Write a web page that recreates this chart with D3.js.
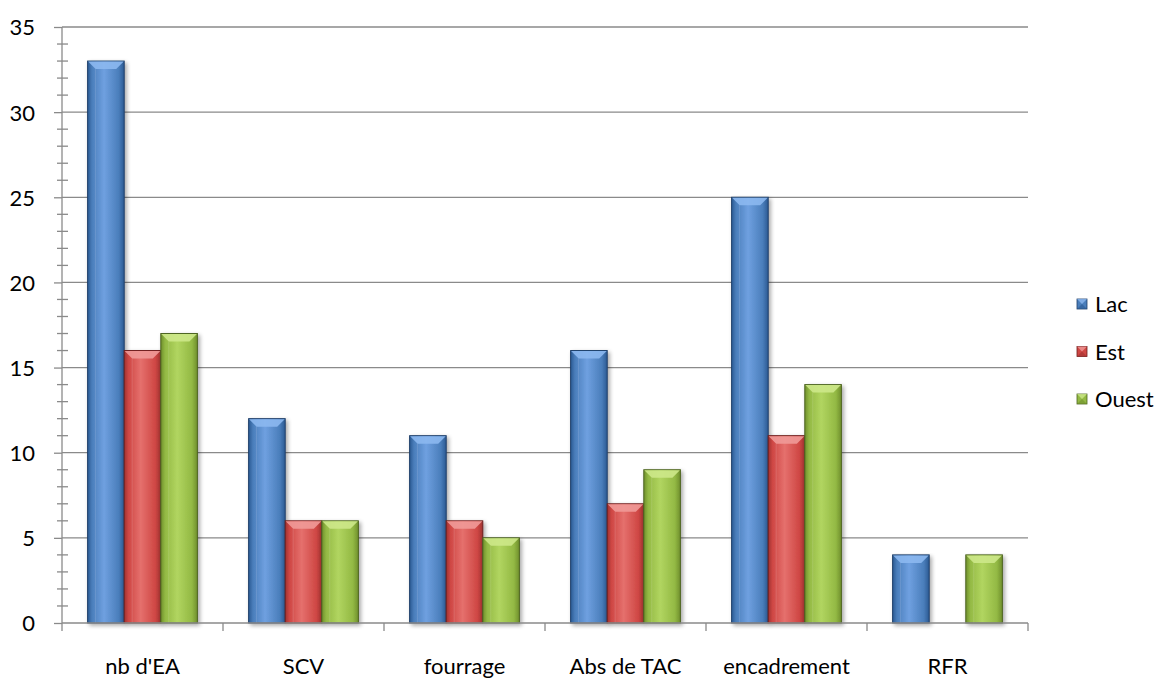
<!DOCTYPE html>
<html><head><meta charset="utf-8">
<script src="https://cdn.jsdelivr.net/npm/d3@7"></script>
<style>
html,body{margin:0;padding:0;background:#fff;}
svg text{font-family:Lato,"Open Sans",sans-serif;fill:#000;}
</style></head>
<body>
<svg id="chart" width="1161" height="678"></svg>
<script>
const categories = ["nb d'EA", "SCV", "fourrage", "Abs de TAC", "encadrement", "RFR"];
const seriesNames = ["Lac", "Est", "Ouest"];
const lac = [33, 12, 11, 16, 25, 4];
const est = [16, 6, 6, 7, 11, 0];
const ouest = [17, 6, 5, 9, 14, 4];
const yTicks = [0, 5, 10, 15, 20, 25, 30, 35];

const seriesValues = [lac, est, ouest];
const palette = [
  {base:"#4a7ebb", light:"#6fa0e0", dark:"#2c5a93", edge:"#1f3f6a", top:"#8cb8f0"},
  {base:"#cf4744", light:"#e5706d", dark:"#a03230", edge:"#6e1f1d", top:"#f09a98"},
  {base:"#93b944", light:"#b1d560", dark:"#6f8f2d", edge:"#4d6420", top:"#cde88a"}
];
const fontSize = 22;

const svg = d3.select("#chart");
const plotLeft = 62, plotRight = 1028, plotTop = 27, plotBottom = 623;

const x = d3.scaleBand().domain(categories).range([plotLeft, plotRight]).paddingInner(0).paddingOuter(0);
const xs = d3.scaleBand().domain(seriesNames).range([0, x.bandwidth()]).paddingInner(0).paddingOuter(0.7);
const y = d3.scaleLinear().domain([0, 35]).range([plotBottom, plotTop]);

const defs = svg.append("defs");
palette.forEach((p, i) => {
  const g = defs.append("linearGradient").attr("id", "g" + i).attr("x1", 0).attr("x2", 1).attr("y1", 0).attr("y2", 0);
  g.append("stop").attr("offset", "0%").attr("stop-color", p.dark);
  g.append("stop").attr("offset", "12%").attr("stop-color", p.base);
  g.append("stop").attr("offset", "45%").attr("stop-color", p.light);
  g.append("stop").attr("offset", "85%").attr("stop-color", p.base);
  g.append("stop").attr("offset", "100%").attr("stop-color", p.dark);
});
const sh = defs.append("filter").attr("id", "shadow").attr("x", "-20%").attr("y", "-5%").attr("width", "150%").attr("height", "115%");
sh.append("feGaussianBlur").attr("in", "SourceAlpha").attr("stdDeviation", 2);
sh.append("feOffset").attr("dx", 2).attr("dy", 2).attr("result", "b");
sh.append("feComponentTransfer").append("feFuncA").attr("type", "linear").attr("slope", 0.35);
const m = sh.append("feMerge");
m.append("feMergeNode");
m.append("feMergeNode").attr("in", "SourceGraphic");

// gridlines
svg.append("g").selectAll("line").data(yTicks.filter(d => d > 0)).join("line")
  .attr("x1", plotLeft).attr("x2", plotRight)
  .attr("y1", d => y(d)).attr("y2", d => y(d))
  .attr("stroke", "#8a8a8a").attr("stroke-width", 1.3);

// minor ticks on the y axis
const minor = d3.range(0, 36, 1).filter(d => d % 5 !== 0);
svg.append("g").selectAll("line").data(minor).join("line")
  .attr("x1", plotLeft - 5).attr("x2", plotLeft + 6)
  .attr("y1", d => y(d)).attr("y2", d => y(d))
  .attr("stroke", "#8a8a8a").attr("stroke-width", 1.3);

// y axis
const yAxis = d3.axisLeft(y).tickValues(yTicks).tickSize(8).tickPadding(8);
const gy = svg.append("g").attr("transform", `translate(${plotLeft},0)`).call(yAxis);
gy.select(".domain").attr("stroke", "#8a8a8a").attr("stroke-width", 1.3).attr("d", `M0,${plotTop}V${plotBottom}`);
gy.selectAll(".tick line").attr("stroke", "#8a8a8a").attr("stroke-width", 1.3);
gy.selectAll(".tick text").attr("font-size", fontSize).attr("font-family", "Lato,sans-serif").attr("fill", "#000")
  .attr("x", -27).attr("dy", "0.36em");

// bars
const groups = svg.append("g").selectAll("g").data(categories).join("g")
  .attr("transform", c => `translate(${x(c)},0)`);
groups.each(function(c, ci) {
  const gg = d3.select(this);
  seriesNames.forEach((s, si) => {
    const v = seriesValues[si][ci];
    if (v <= 0) return;
    const bx = xs(s), bw = xs.bandwidth(), by = y(v), bh = y(0) - y(v);
    const p = palette[si];
    const b = gg.append("g").attr("filter", "url(#shadow)");
    b.append("rect").attr("x", bx).attr("y", by).attr("width", bw).attr("height", bh)
      .attr("fill", `url(#g${si})`).attr("stroke", p.edge).attr("stroke-width", 1);
    const bev = Math.min(8, bw * 0.22);
    b.append("path")
      .attr("d", `M${bx + 0.5},${by + 0.5}H${bx + bw - 0.5}L${bx + bw - bev},${by + bev}H${bx + bev}Z`)
      .attr("fill", p.top).attr("opacity", 0.9);
    b.append("line").attr("x1", bx + bev).attr("x2", bx + bev).attr("y1", by + bev).attr("y2", by + bh)
      .attr("stroke", "#ffffff").attr("stroke-opacity", 0.12).attr("stroke-width", 1);
  });
});

// x axis
const xAxis = d3.axisBottom(x).tickSize(0);
const gx = svg.append("g").attr("transform", `translate(0,${plotBottom})`).call(xAxis);
gx.select(".domain").attr("stroke", "#8a8a8a").attr("stroke-width", 1.3).attr("d", `M${plotLeft},0H${plotRight}`);
gx.selectAll(".tick text").attr("font-size", fontSize).attr("font-family", "Lato,sans-serif").attr("fill", "#000")
  .attr("y", 51).attr("dy", 0);
const bounds = d3.range(categories.length + 1).map(i => plotLeft + i * x.step());
gx.append("g").selectAll("line").data(bounds).join("line")
  .attr("x1", d => d).attr("x2", d => d).attr("y1", 0).attr("y2", 8)
  .attr("stroke", "#8a8a8a").attr("stroke-width", 1.3);

// legend
const leg = svg.append("g").attr("transform", "translate(1077,299)");
seriesNames.forEach((s, i) => {
  const p = palette[i];
  const row = leg.append("g").attr("transform", `translate(0,${i * 47.5})`);
  row.append("rect").attr("width", 10).attr("height", 10).attr("fill", p.base).attr("stroke", p.edge).attr("stroke-width", 0.8);
  row.append("path").attr("d", "M0,0H10L5,5Z").attr("fill", p.top).attr("opacity", 0.8);
  row.append("path").attr("d", "M0,10H10L5,5Z").attr("fill", p.dark).attr("opacity", 0.6);
  row.append("text").attr("x", 18).attr("y", 13).attr("font-size", fontSize).text(s);
});
</script>
</body></html>
